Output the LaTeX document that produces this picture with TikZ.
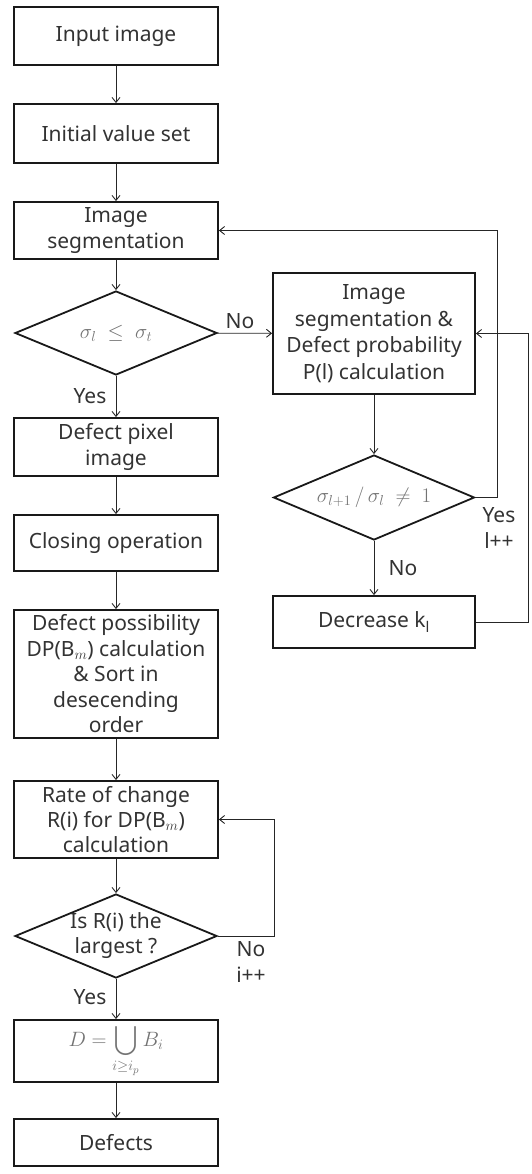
\documentclass[tikz,border=0pt]{standalone}
\usepackage{amsmath}
\usepackage{fontspec}
\setmainfont{Noto Sans}
\usetikzlibrary{shapes.geometric,arrows.meta}
\begin{document}
\begin{tikzpicture}[x=1pt,y=-1pt,
  every node/.style={font=\fontsize{21}{26.5}\selectfont, text=black!80},
  box/.style={draw=black!90, line width=1.8pt, minimum width=204pt, align=center, inner sep=0pt},
  dia/.style={draw=black!90, line width=1.8pt, diamond, inner sep=0pt},
  dtext/.style={align=center, inner sep=0pt},
  conn/.style={draw=black!85, line width=0.9pt, -{Straight Barb[length=5pt,width=8pt]}},
  lbl/.style={inner sep=0pt},
  mth/.style={text=black!55}]
\useasboundingbox (0,0) rectangle (531,1174);
% left column
\node[box, minimum height=58pt] (in) at (116,36) {Input image};
\node[box, minimum height=59pt] (init) at (116,133.5) {Initial value set};
\node[box, minimum height=57pt] (seg) at (116,230.5) {Image\\[-1pt]segmentation};
\node[dia, minimum width=202pt, minimum height=84pt] (d1) at (116,333) {};
\node[dtext, mth] (d1t) at (d1.center) {$\sigma_l\ \leq\ \sigma_t$};
\node[box, minimum height=58pt] (dpi) at (116,447) {Defect pixel\\[-1pt]image};
\node[box, minimum height=56pt] (close) at (116,543) {Closing operation};
\node[box, minimum height=128pt, font=\fontsize{21}{25.5}\selectfont] (dp) at (116,674) {Defect possibility\\DP(B$_m$) calculation\\\& Sort in\\desecending\\order};
\node[box, minimum height=77pt, font=\fontsize{21}{25}\selectfont] (rate) at (116,819.5) {Rate of change\\R(i) for DP(B$_m$)\\calculation};
\node[dia, minimum width=202pt, minimum height=84pt] (d2) at (116,936) {};
\node[dtext, font=\fontsize{21}{25}\selectfont] (d2t) at (d2.center) {Is R(i) the\\largest ?};
\node[box, minimum height=62pt, mth] (D) at (116,1051) {$D=\displaystyle\bigcup_{i\geq i_p} B_i$};
\node[box, minimum height=47pt] (def) at (116,1142.5) {Defects};
% right column
\node[box, minimum height=121pt, minimum width=202pt] (rseg) at (374,333.5) {Image\\segmentation \&\\Defect probability\\P(l) calculation};
\node[dia, minimum width=201pt, minimum height=85pt] (d3) at (374,497.5) {};
\node[dtext, mth] (d3t) at (d3.center) {$\sigma_{l+1}\,/\,\sigma_l\ \neq\ 1$};
\node[box, minimum height=52pt, minimum width=202pt] (dec) at (374,622) {Decrease k$_\mathrm{l}$};
% corner coordinates
\coordinate (c1) at (497,497.5);
\coordinate (c2) at (497,230.5);
\coordinate (c3) at (528,622);
\coordinate (c4) at (528,333.5);
\coordinate (c5) at (274,936);
\coordinate (c6) at (274,819.5);
% connectors
\draw[conn] (in) -- (init);
\draw[conn] (init) -- (seg);
\draw[conn] (seg) -- (d1);
\draw[conn] (d1) -- (dpi);
\draw[conn] (dpi) -- (close);
\draw[conn] (close) -- (dp);
\draw[conn] (dp) -- (rate);
\draw[conn] (rate) -- (d2);
\draw[conn] (d2) -- (D);
\draw[conn] (D) -- (def);
\draw[conn] (d1) -- (rseg);
\draw[conn] (rseg) -- (d3);
\draw[conn] (d3) -- (dec);
\draw[conn] (d3.east) -- (c1) -- (c2) -- (seg.east);
\draw[conn] (dec.east) -- (c3) -- (c4) -- (rseg.east);
\draw[conn] (d2.east) -- (c5) -- (c6) -- (rate.east);
% labels
\node[lbl] (lno1) at (240,321) {No};
\node[lbl] (lyes1) at (90,396) {Yes};
\node[lbl] (lno3) at (403,568) {No};
\node[lbl, align=center] (lyes3) at (499,528) {Yes\\l++};
\node[lbl, align=center] (lno2) at (251,962) {No\\i++};
\node[lbl] (lyes2) at (90,997) {Yes};
\end{tikzpicture}
\end{document}
